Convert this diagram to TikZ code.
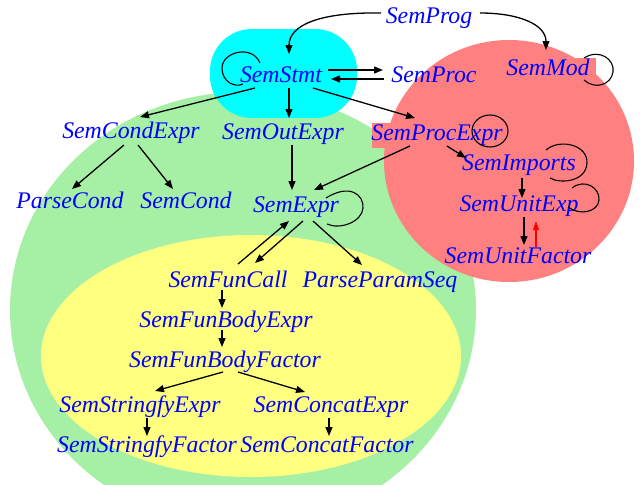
\documentclass[tikz,border=0pt]{standalone}
\usepackage{fontspec}
\setmainfont{Liberation Serif}
\usetikzlibrary{arrows.meta}
\definecolor{clgreen}{RGB}{166,240,166}
\definecolor{clyellow}{RGB}{255,255,128}
\definecolor{clred}{RGB}{255,128,128}
\definecolor{clcyan}{RGB}{0,255,255}
\definecolor{lbl}{RGB}{0,0,255}
\begin{document}
\begin{tikzpicture}[x=1pt,y=-1pt,
  sem/.style={anchor=base,inner sep=0pt,text=lbl,
    font=\fontsize{23.8}{28}\selectfont\itshape},
  arr/.style={line width=1.3pt,-{Triangle[length=9pt,width=7pt]}},
  loopline/.style={line width=1.1pt},
  back/.style={red,line width=1.3pt,-{Triangle[length=9pt,width=6pt]}}]
\clip (0,0) rectangle (641,485);
% cluster backgrounds
\fill[clgreen] (243,310) ellipse [x radius=233, y radius=218];
\fill[clyellow] (251,356) ellipse [x radius=210, y radius=121];
\fill[clcyan, rounded corners=42pt] (210,29) rectangle (357,118);
\fill[clred] (509,161) ellipse [x radius=125, y radius=121];
\fill[clred] (500,58) rectangle (596,77);
\fill[clred] (372,123) rectangle (470,148);
% nodes
\node[sem] (SemProg) at (429,23) {SemProg};
\node[sem] (SemStmt) at (281,82) {SemStmt};
\node[sem] (SemProc) at (434,82) {SemProc};
\node[sem] (SemMod) at (548,75) {SemMod};
\node[sem] (SemCondExpr) at (131,138) {SemCondExpr};
\node[sem] (SemOutExpr) at (283,139) {SemOutExpr};
\node[sem] (SemProcExpr) at (437,140) {SemProcExpr};
\node[sem] (ParseCond) at (70,208) {ParseCond};
\node[sem] (SemCond) at (186,208) {SemCond};
\node[sem] (SemExpr) at (296,212) {SemExpr};
\node[sem] (SemImports) at (519,170) {SemImports};
\node[sem] (SemUnitExp) at (519,211) {SemUnitExp};
\node[sem] (SemUnitFactor) at (518,263) {SemUnitFactor};
\node[sem] (SemFunCall) at (228,287) {SemFunCall};
\node[sem] (ParseParamSeq) at (380,287) {ParseParamSeq};
\node[sem] (SemFunBodyExpr) at (226,327) {SemFunBodyExpr};
\node[sem] (SemFunBodyFactor) at (225,367) {SemFunBodyFactor};
\node[sem] (SemStringfyExpr) at (140,412) {SemStringfyExpr};
\node[sem] (SemConcatExpr) at (331,412) {SemConcatExpr};
\node[sem] (SemStringfyFactor) at (147,452) {SemStringfyFactor};
\node[sem] (SemConcatFactor) at (327,452) {SemConcatFactor};
% edges
\draw[arr] ([shift={(-48,-10)}]SemProg.base) .. controls (320,12) and (289,25) .. ([shift={(8,-28)}]SemStmt.base);
\draw[arr] ([shift={(51,-10)}]SemProg.base) .. controls (520,13) and (546,25) .. ([shift={(-2,-25)}]SemMod.base);
\draw[loopline] ([shift={(-21,-19)}]SemStmt.base) .. controls (252,44) and (222,52) .. (222,68)
  .. controls (222,82) and (235,88) .. ([shift={(-38,2)}]SemStmt.base);
\draw[arr] ([shift={(47,-12)}]SemStmt.base) -- ([shift={(-51,-12)}]SemProc.base);
\draw[arr] ([shift={(-50,-3)}]SemProc.base) -- ([shift={(50,-3)}]SemStmt.base);
\draw[arr] ([shift={(-26,6)}]SemStmt.base) -- ([shift={(9,-21)}]SemCondExpr.base);
\draw[arr] ([shift={(8,6)}]SemStmt.base) -- ([shift={(6,-21)}]SemOutExpr.base);
\draw[arr] ([shift={(32,6)}]SemStmt.base) -- ([shift={(-22,-22)}]SemProcExpr.base);
\draw[loopline] ([shift={(36,-17)}]SemMod.base) .. controls (600,48) and (615,60) .. (613,72)
  .. controls (611,85) and (595,90) .. ([shift={(36,5)}]SemMod.base);
\draw[arr] ([shift={(-7,7)}]SemCondExpr.base) -- ([shift={(2,-19)}]ParseCond.base);
\draw[arr] ([shift={(7,7)}]SemCondExpr.base) -- ([shift={(-13,-19)}]SemCond.base);
\draw[arr] ([shift={(9,6)}]SemOutExpr.base) -- ([shift={(-4,-22)}]SemExpr.base);
\draw[arr] ([shift={(-27,6)}]SemProcExpr.base) -- ([shift={(18,-22)}]SemExpr.base);
\draw[loopline] ([shift={(53,-9)}]SemProcExpr.base) ellipse [x radius=18, y radius=16];
\draw[arr] ([shift={(10,6)}]SemProcExpr.base) -- ([shift={(-53,-12)}]SemImports.base);
\draw[loopline] ([shift={(27,-20)}]SemImports.base) .. controls (560,138) and (588,145) .. (587,163)
  .. controls (586,182) and (560,184) .. ([shift={(31,8)}]SemImports.base);
\draw[arr] ([shift={(3,8)}]SemImports.base) -- ([shift={(3,-13)}]SemUnitExp.base);
\draw[loopline] ([shift={(53,-23)}]SemUnitExp.base) .. controls (585,178) and (600,188) .. (599,200)
  .. controls (598,212) and (580,216) .. ([shift={(49,-4)}]SemUnitExp.base);
\draw[arr] ([shift={(5,6)}]SemUnitExp.base) -- ([shift={(6,-18)}]SemUnitFactor.base);
\draw[back] ([shift={(18,-16)}]SemUnitFactor.base) -- ([shift={(17,10)}]SemUnitExp.base);
\draw[loopline] ([shift={(30,-14)}]SemExpr.base) .. controls (350,183) and (364,195) .. (363,208)
  .. controls (362,222) and (340,230) .. ([shift={(31,12)}]SemExpr.base);
\draw[arr] ([shift={(10,-23)}]SemFunCall.base) -- ([shift={(-7,9)}]SemExpr.base);
\draw[arr] ([shift={(7,9)}]SemExpr.base) -- ([shift={(27,-24)}]SemFunCall.base);
\draw[arr] ([shift={(17,9)}]SemExpr.base) -- ([shift={(-18,-22)}]ParseParamSeq.base);
\draw[arr] ([shift={(-6,3)}]SemFunCall.base) -- ([shift={(-4,-19)}]SemFunBodyExpr.base);
\draw[arr] ([shift={(-4,3)}]SemFunBodyExpr.base) -- ([shift={(-3,-20)}]SemFunBodyFactor.base);
\draw[arr] ([shift={(-2,5)}]SemFunBodyFactor.base) -- ([shift={(15,-21)}]SemStringfyExpr.base);
\draw[arr] ([shift={(13,5)}]SemFunBodyFactor.base) -- ([shift={(-26,-20)}]SemConcatExpr.base);
\draw[arr] ([shift={(7,6)}]SemStringfyExpr.base) -- ([shift={(0,-16)}]SemStringfyFactor.base);
\draw[arr] ([shift={(-2,6)}]SemConcatExpr.base) -- ([shift={(2,-16)}]SemConcatFactor.base);
\end{tikzpicture}
\end{document}
